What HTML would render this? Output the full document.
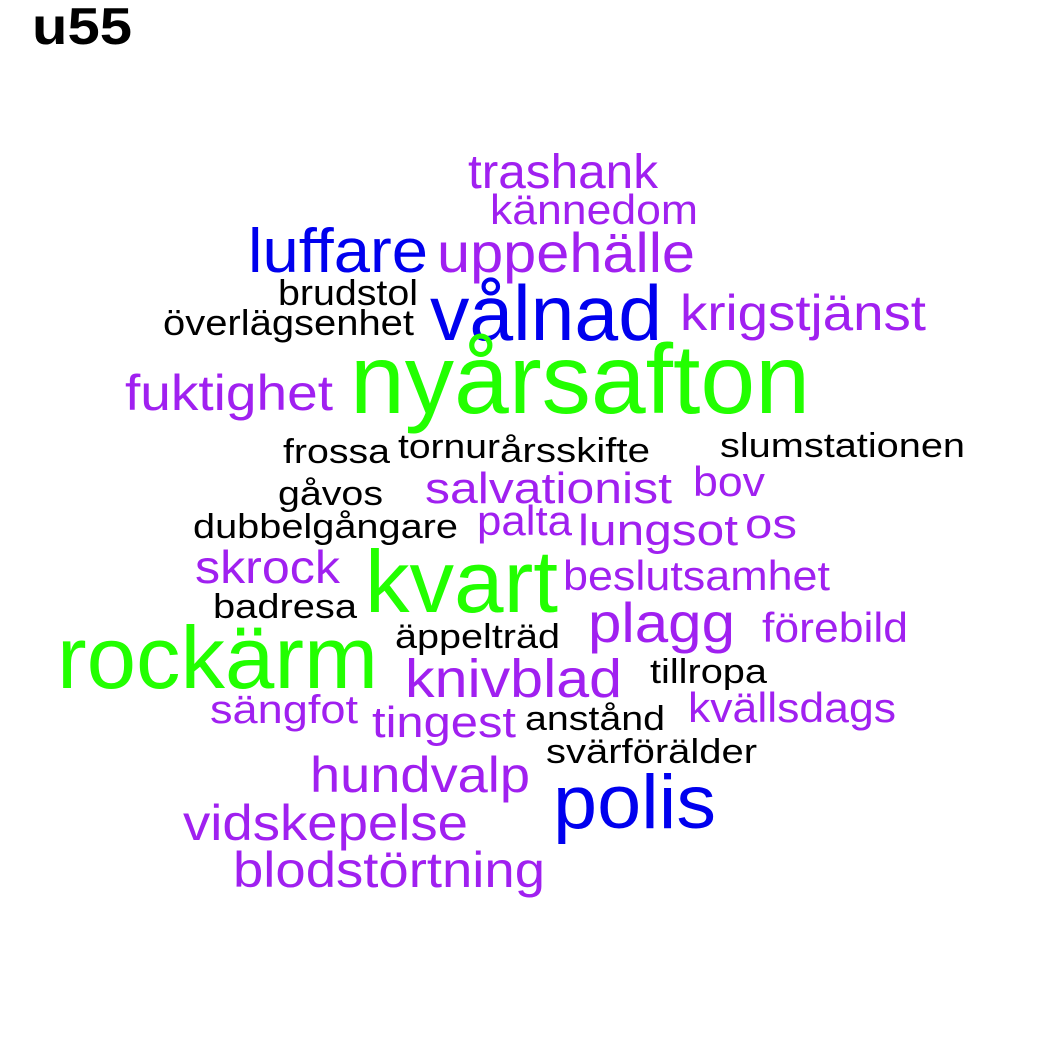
<!DOCTYPE html>
<html><head><meta charset="utf-8"><style>
html,body{margin:0;padding:0;background:#fff;}
svg{display:block;font-family:"Liberation Sans",Arial,sans-serif;}
</style></head><body>
<svg id="cloud" width="1050" height="1050" viewBox="0 0 1050 1050">
<text x="32" y="44" font-size="52" font-weight="bold" fill="#000" textLength="100" lengthAdjust="spacingAndGlyphs">u55</text>
</svg>
<script>
const words = ["trashank","kännedom","luffare","uppehälle","brudstol","vålnad","krigstjänst","överlägsenhet","nyårsafton","fuktighet","frossa","tornur","årsskifte","slumstationen","bov","salvationist","gåvos","dubbelgångare","palta","lungsot","os","skrock","kvart","beslutsamhet","badresa","plagg","förebild","äppelträd","rockärm","knivblad","tillropa","sängfot","tingest","anstånd","kvällsdags","svärförälder","hundvalp","polis","vidskepelse","blodstörtning"];
const groups = ["p","p","b","p","k","b","p","k","g","p","k","k","k","k","p","p","k","k","p","p","p","p","g","p","k","p","p","k","g","p","k","p","p","k","p","k","p","b","p","p"];
const xLeft = [468,490,248,437,278,430,680,163,350,125,283,398,500,720,693,425,278,193,477,578,745,195,365,563,213,588,762,395,57,405,650,210,372,525,688,546,310,553,183,233];
const xRight = [658,698,428,695,418,662,926,414,810,333,390,500,650,965,765,672,383,458,572,738,797,340,558,830,357,735,908,560,378,622,767,358,516,665,896,757,530,716,468,545];
const baseline = [188,224,272,272,305,340,330,335,413,410,463,458,462,457,496,503,505,538,535,545,538,583,612,590,618,642,642,648,688,697,683,723,737,730,722,763,792,828,840,887];
const sizes = [48,42,62,56,36,78,50,36,98,50,34,34,34,34,42,44,34,34,42,44,42,46,88,42,34,56,42,34,88,54,34,40,44,34,42,34,50,76,50,50];
const colorMap = {g:"#22ff00", b:"#0000ee", p:"#a020f0", k:"#000000"};
const svg = document.getElementById('cloud');
for (let i = 0; i < words.length; i++) {
  const t = document.createElementNS('http://www.w3.org/2000/svg','text');
  t.setAttribute('x', xLeft[i]);
  t.setAttribute('y', baseline[i]);
  t.setAttribute('font-size', sizes[i]);
  t.setAttribute('fill', colorMap[groups[i]]);
  t.setAttribute('textLength', xRight[i] - xLeft[i]);
  t.setAttribute('lengthAdjust', 'spacingAndGlyphs');
  
  
  t.textContent = words[i];
  svg.appendChild(t);
}
</script>
</body></html>
